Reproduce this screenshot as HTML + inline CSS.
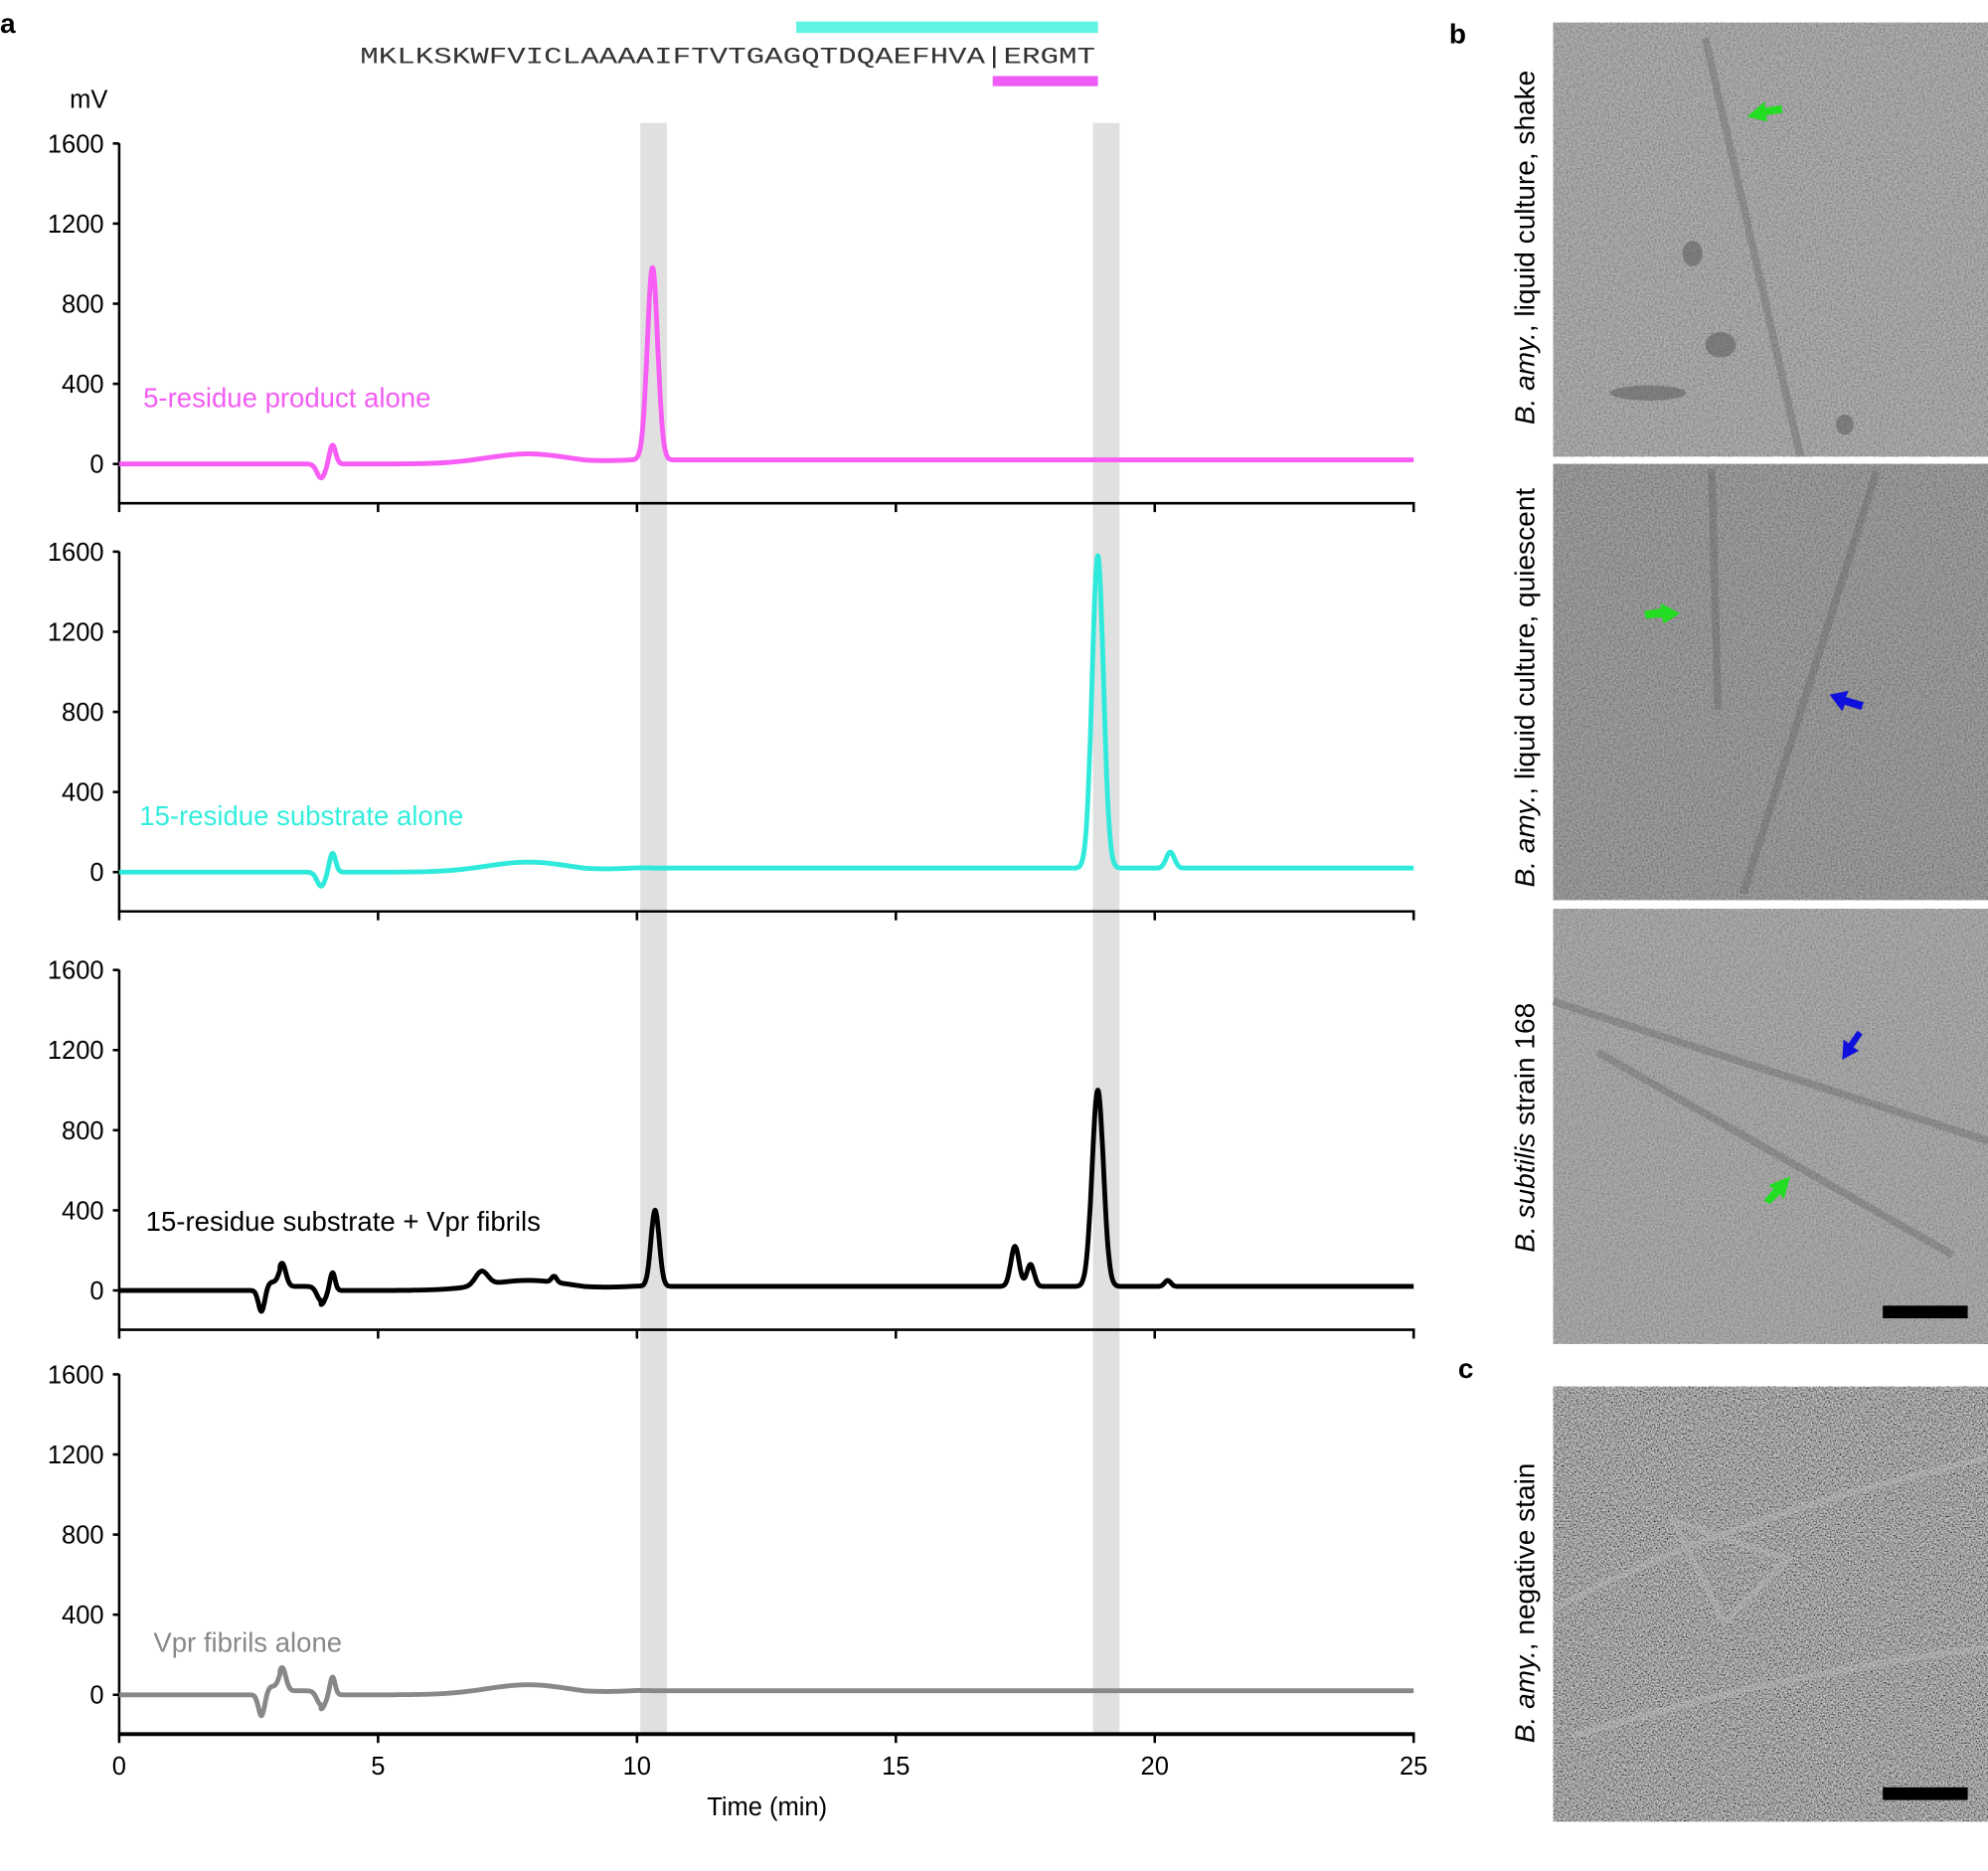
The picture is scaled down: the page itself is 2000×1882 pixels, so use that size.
<!DOCTYPE html>
<html><head><meta charset="utf-8">
<style>html,body{margin:0;padding:0;background:#fff;}svg{display:block;}
text{font-family:"Liberation Sans",Arial,sans-serif;}</style></head>
<body>
<svg id="s" xmlns="http://www.w3.org/2000/svg" width="2000" height="1882" viewBox="0 0 1568 1476" preserveAspectRatio="none">
<defs>
<filter id="n1" x="0" y="0" width="100%" height="100%"><feTurbulence type="fractalNoise" baseFrequency="0.7" numOctaves="2" seed="3"/><feColorMatrix type="matrix" values="1.1 0 0 0 -0.05  1.1 0 0 0 -0.05  1.1 0 0 0 -0.05  0 0 0 0 1"/></filter>
<filter id="n2" x="0" y="0" width="100%" height="100%"><feTurbulence type="fractalNoise" baseFrequency="0.8" numOctaves="2" seed="7"/><feColorMatrix type="matrix" values="1.6 0 0 0 -0.35  1.6 0 0 0 -0.35  1.6 0 0 0 -0.35  0 0 0 0 1"/></filter>
</defs>
<g font-size="20">
<text x="0" y="26" font-size="22" font-weight="bold">a</text>
<text x="1143" y="34" font-size="22" font-weight="bold">b</text>
<text x="1150" y="1087" font-size="22" font-weight="bold">c</text>
<rect x="628" y="17" width="238" height="9" fill="#5ff3e4"/>
<rect x="783" y="60" width="83" height="8" fill="#ee5cf7"/>
<text x="284" y="50" style="font-family:'Liberation Mono',monospace" font-size="17.8" fill="#333" textLength="580" lengthAdjust="spacingAndGlyphs">MKLKSKWFVICLAAAAIFTVTGAGQTDQAEFHVA|ERGMT</text>
<text x="55" y="85" font-size="20">mV</text>
<rect x="505" y="97" width="21" height="1271" fill="#e0e0e0"/>
<rect x="862" y="97" width="21" height="1271" fill="#e0e0e0"/>
<g id="axes"></g>
<g font-size="21.6">
<text x="113" y="321" fill="#f35cf3">5-residue product alone</text>
<text x="110" y="651" fill="#33eedd">15-residue substrate alone</text>
<text x="115" y="971" fill="#000">15-residue substrate + Vpr fibrils</text>
<text x="121" y="1303" fill="#888">Vpr fibrils alone</text>
</g>
<text x="605" y="1432" text-anchor="middle">Time (min)</text>
</g>
<!-- images -->
<g>
<rect x="1225" y="18" width="343" height="342" filter="url(#n1)"/><rect x="1225" y="18" width="343" height="342" fill="#8b8b8b" opacity="0.55"/>
<rect x="1225" y="366" width="343" height="344" filter="url(#n1)"/><rect x="1225" y="366" width="343" height="344" fill="#707070" opacity="0.55"/>
<rect x="1225" y="717" width="343" height="343" filter="url(#n1)"/><rect x="1225" y="717" width="343" height="343" fill="#8d8d8d" opacity="0.6"/>
<rect x="1225" y="1094" width="343" height="343" fill="#555"/><rect x="1225" y="1094" width="343" height="343" filter="url(#n2)" opacity="0.8"/>
<g stroke="#555" stroke-width="6" opacity="0.3" fill="none">
<path d="M1345 30 L1420 360"/><path d="M1350 370 L1355 560"/><path d="M1480 372 L1375 705"/>
<path d="M1225 790 L1568 900"/><path d="M1260 830 L1540 990"/>
</g>
<g fill="#555" opacity="0.5"><ellipse cx="1335" cy="200" rx="8" ry="10"/><ellipse cx="1357" cy="272" rx="12" ry="10"/><ellipse cx="1300" cy="310" rx="30" ry="6"/><ellipse cx="1455" cy="335" rx="7" ry="8"/></g>
<g stroke="#bbb" stroke-width="5" opacity="0.4" fill="none"><path d="M1225 1270 Q1350 1200 1568 1150"/><path d="M1240 1370 Q1400 1320 1568 1300"/><path d="M1320 1200 L1360 1280 L1410 1230 Z"/></g>
<rect x="1485" y="1030" width="67" height="10" fill="#000"/>
<rect x="1485" y="1410" width="67" height="10" fill="#000"/>
<g fill="#22dd22"><path d="M1378 92 L1392 80 L1392 85 L1405 83 L1406 89 L1393 91 L1394 96 Z"/>
<path d="M1325 484 L1310 476 L1310 480 L1297 482 L1298 488 L1311 487 L1312 492 Z"/>
<path d="M1412 928 L1395 935 L1399 938 L1391 947 L1396 950 L1404 942 L1407 946 Z"/></g>
<g fill="#1010dd"><path d="M1443 548 L1458 545 L1456 550 L1470 554 L1468 560 L1455 556 L1453 561 Z"/>
<path d="M1453 836 L1454 820 L1458 823 L1465 813 L1469 816 L1462 826 L1466 829 Z"/></g>
<g font-size="22" fill="#000">
<text transform="translate(1210,335) rotate(-90)"><tspan font-style="italic">B. amy.</tspan>, liquid culture, shake</text>
<text transform="translate(1210,700) rotate(-90)"><tspan font-style="italic">B. amy.</tspan>, liquid culture, quiescent</text>
<text transform="translate(1210,988) rotate(-90)"><tspan font-style="italic">B. subtilis</tspan> strain 168</text>
<text transform="translate(1210,1375) rotate(-90)"><tspan font-style="italic">B. amy.</tspan>, negative stain</text>
</g>
</g>
<g id="traces"></g>
</svg>
<script>
(function(){
var NS="http://www.w3.org/2000/svg";
var axes=document.getElementById('axes'),tr=document.getElementById('traces');
function el(p,tag,a,txt){var e=document.createElementNS(NS,tag);for(var k in a)e.setAttribute(k,a[k]);if(txt!==undefined)e.textContent=txt;p.appendChild(e);return e;}
var zeros=[366,688,1018,1337],axY=[397,719,1049,1368];
var X=function(t){return 94+t*40.84;};
for(var p=0;p<4;p++){
 var y0=zeros[p];
 el(axes,'line',{x1:94,y1:y0-253,x2:94,y2:axY[p],stroke:'#000','stroke-width':2});
 el(axes,'line',{x1:93,y1:axY[p],x2:1116,y2:axY[p],stroke:'#000','stroke-width':p==3?3:2});
 for(var v=0;v<=1600;v+=400){var y=y0-v*0.158;
  el(axes,'line',{x1:89,y1:y,x2:94,y2:y,stroke:'#000','stroke-width':2});
  el(axes,'text',{x:82,y:y+7,'text-anchor':'end'},String(v));}
 for(var t=0;t<=25;t+=5){el(axes,'line',{x1:X(t),y1:axY[p],x2:X(t),y2:axY[p]+7,stroke:'#000','stroke-width':2});}
}
for(var t=0;t<=25;t+=5)el(axes,'text',{x:X(t),y:1400,'text-anchor':'middle'},String(t));
function g(t,c,a,w){return a*Math.exp(-Math.pow((t-c)/w,2)/2);}
function base(t){var b=g(t,7.9,50,0.8)+ (t>9?20:0)*Math.min(1,(t-9)/1);return b;}
var sets=[
 {c:'#f85df5',f:function(t){return base(t)+g(t,3.9,-70,0.08)+g(t,4.12,95,0.06)+g(t,10.3,960,0.1);}},
 {c:'#2feadb',f:function(t){return base(t)+g(t,3.9,-70,0.08)+g(t,4.12,95,0.06)+g(t,18.9,1560,0.11)+g(t,20.3,80,0.08);}},
 {c:'#000',f:function(t){return base(t)+g(t,2.75,-110,0.06)+g(t,2.95,40,0.1)+g(t,3.15,110,0.07)+(t>3.1&&t<3.9?20:0)+g(t,3.9,-70,0.08)+g(t,4.12,90,0.05)+g(t,7.0,70,0.12)+g(t,8.4,30,0.05)+g(t,10.35,380,0.08)+g(t,17.3,200,0.08)+g(t,17.6,110,0.07)+g(t,18.9,980,0.11)+g(t,20.25,30,0.06);}},
 {c:'#888',f:function(t){return base(t)+g(t,2.75,-110,0.06)+g(t,2.95,40,0.1)+g(t,3.15,110,0.07)+(t>3.1&&t<3.9?20:0)+g(t,3.9,-70,0.08)+g(t,4.12,90,0.05);}}
];
for(var p=0;p<4;p++){var d='',s=sets[p];
 for(var i=0;i<=2500;i++){var t=i*0.01;var v=s.f(t);d+=(i?'L':'M')+X(t).toFixed(1)+' '+(zeros[p]-v*0.158).toFixed(1);}
 el(tr,'path',{d:d,fill:'none',stroke:s.c,'stroke-width':3.8,'stroke-linejoin':'round'});}
})();
</script>
</body></html>
